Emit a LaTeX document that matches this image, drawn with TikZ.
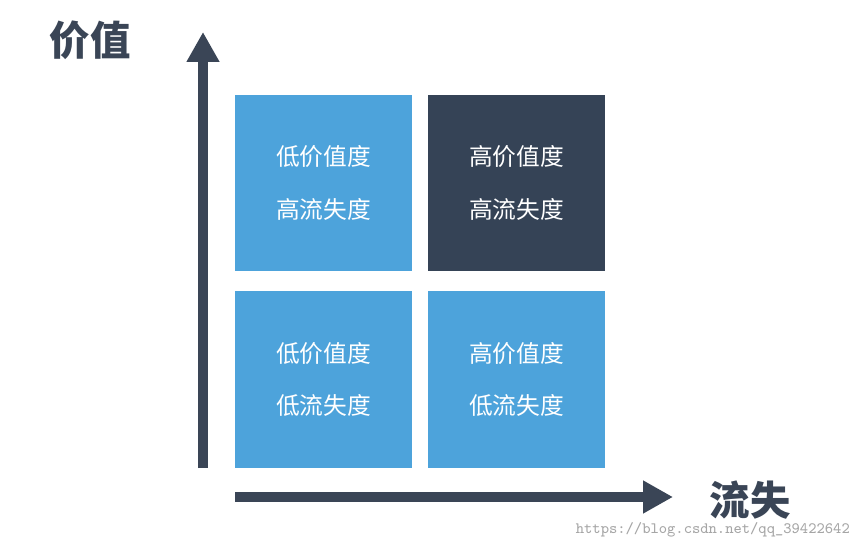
\documentclass[tikz,border=0pt]{standalone}
\usepackage{fontspec}
\usepackage{tikz}
\usetikzlibrary{arrows.meta}
\newfontfamily\cjk{Noto Sans CJK SC}
\definecolor{cellblue}{HTML}{4DA3DB}
\definecolor{celldark}{HTML}{354356}
\definecolor{axisdark}{HTML}{3A4556}
\tikzset{
  cell/.style={minimum width=3.54cm, minimum height=3.54cm, inner sep=0pt,
    text=white, align=center, font=\cjk\fontsize{13.5}{30}\selectfont},
  axis/.style={axisdark, line width=0.2cm, -{Triangle[length=0.6cm, width=0.62cm]}},
  axislabel/.style={font=\cjk\bfseries\fontsize{23}{26}\selectfont, text=axisdark}
}
\begin{document}
\begin{tikzpicture}[x=0.02cm, y=-0.02cm]
			\useasboundingbox (0,0) rectangle (865,550);
			\fill[white] (0,0) rectangle (865,550);
			
			\node[cell, fill=cellblue] (lowhigh) at (323.5,183) {低价值度\\高流失度};
			\node[cell, fill=celldark] (highhigh) at (516.5,183) {高价值度\\高流失度};
			\node[cell, fill=cellblue] (lowlow) at (323.5,379.5) {低价值度\\低流失度};
			\node[cell, fill=cellblue] (highlow) at (516.5,379.5) {高价值度\\低流失度};
			
			\coordinate (origin) at (203,468);
			\coordinate (ytip) at (203,32);
			\coordinate (xstart) at (235,497);
			\coordinate (xtip) at (673,497);
			\draw[axis] (origin) -- (ytip);
			\draw[axis] (xstart) -- (xtip);
			
			\node[axislabel] (value) at (90,40) {价值};
			\node[axislabel] (churn) at (750,500) {流失};
			\node[text=gray!70, font=\ttfamily\fontsize{9}{10}\selectfont, anchor=east] (mark) at (856,530) {https://blog.csdn.net/qq\_39422642};
		\end{tikzpicture}
\end{document}
